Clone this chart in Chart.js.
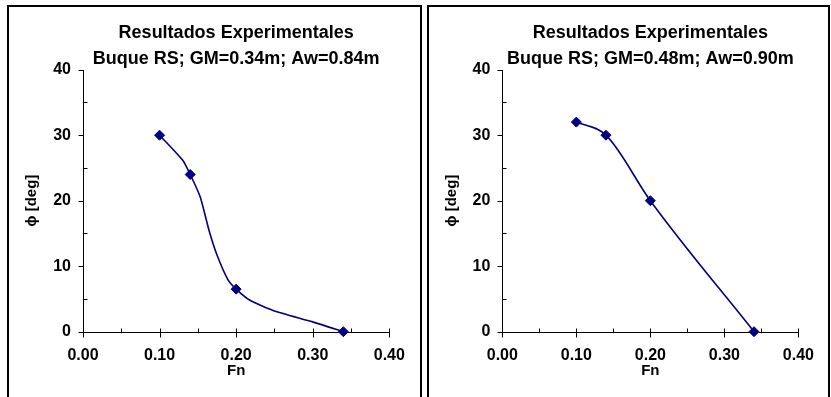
<!DOCTYPE html>
<html>
<head>
<meta charset="utf-8">
<script src="https://cdn.jsdelivr.net/npm/chart.js@4.4.0/dist/chart.umd.min.js"></script>
<style>
  body { margin: 0; background: #fff; }
  .panel { position: absolute; top: 5px; height: 400px; border: 2px solid #000; background: #fff; }
  #p1 { left: 7px; width: 411px; }
  #p2 { left: 427px; width: 399px; }
  canvas { display: block; }
</style>
</head>
<body>
<div class="panel" id="p1"><canvas id="c1" width="411" height="390"></canvas></div>
<div class="panel" id="p2"><canvas id="c2" width="399" height="390"></canvas></div>
<script>
// left chart: GM=0.34m
const fnLeft = [0.10, 0.14, 0.20, 0.34];
const phiLeft = [30, 24, 6.5, 0];
// traced curve of the left chart
const curveFnLeft = [0.10, 0.13, 0.14, 0.153, 0.165, 0.175, 0.189, 0.20, 0.218, 0.249, 0.30, 0.34];
const curvePhiLeft = [30, 26.2, 24, 20.6, 15.3, 11.7, 8.0, 6.5, 4.8, 3.2, 1.5, 0];

// right chart: GM=0.48m
const fnRight = [0.10, 0.14, 0.20, 0.34];
const phiRight = [32, 30, 20, 0];

// axis ticks
const xMajor = [0, 0.1, 0.2, 0.3, 0.4];
const xMinor = [0.05, 0.15, 0.25, 0.35];
const yMajor = [0, 10, 20, 30, 40];
const yMinor = [5, 15, 25, 35];

const navy = '#000080';
Chart.defaults.font.family = '"Liberation Sans", Arial, sans-serif';
Chart.defaults.color = '#000';

// axis lines + major/minor tick marks, Excel style
const axisMarks = {
  id: 'axisMarks',
  beforeDatasetsDraw(chart) {
    const { ctx, scales: { x, y } } = chart;
    const ax = Math.round(x.getPixelForValue(0)) + 0.5;
    const ay = Math.round(y.getPixelForValue(0)) + 0.5;
    ctx.save();
    ctx.strokeStyle = '#000';
    ctx.lineWidth = 1;
    ctx.beginPath();
    ctx.moveTo(ax, Math.round(y.getPixelForValue(40)));
    ctx.lineTo(ax, ay);
    ctx.lineTo(Math.round(x.getPixelForValue(0.4)) + 1, ay);
    yMajor.forEach(v => {
      const py = Math.round(y.getPixelForValue(v)) + 0.5;
      ctx.moveTo(ax - 5, py); ctx.lineTo(ax, py);
    });
    yMinor.forEach(v => {
      const py = Math.round(y.getPixelForValue(v)) + 0.5;
      ctx.moveTo(ax, py); ctx.lineTo(ax + 4, py);
    });
    xMajor.forEach(v => {
      const px = Math.round(x.getPixelForValue(v)) + 0.5;
      ctx.moveTo(px, ay - 4); ctx.lineTo(px, ay + 5);
    });
    xMinor.forEach(v => {
      const px = Math.round(x.getPixelForValue(v)) + 0.5;
      ctx.moveTo(px, ay - 4); ctx.lineTo(px, ay);
    });
    ctx.stroke();
    ctx.restore();
  }
};

function makeChart(id, title, sub, cx, cy, px, py, yWidth, rightPad, curveOpts) {
  const ctx = document.getElementById(id).getContext('2d');
  const titleFont = { size: 18, weight: 'bold', lineHeight: 1 };
  return new Chart(ctx, {
    type: 'scatter',
    data: {
      datasets: [{
        data: px.map((v, i) => ({ x: v, y: py[i] })),
        showLine: false,
        pointStyle: 'rectRot',
        pointRadius: 5,
        pointBackgroundColor: navy,
        pointBorderColor: navy,
        pointBorderWidth: 1,
        clip: false
      }, Object.assign({
        data: cx.map((v, i) => ({ x: v, y: cy[i] })),
        showLine: true,
        borderColor: navy,
        borderWidth: 1.6,
        pointRadius: 0,
        clip: false
      }, curveOpts)]
    },
    options: {
      responsive: false,
      animation: false,
      events: [],
      layout: { padding: { left: 0, right: rightPad, top: 0, bottom: 0 } },
      plugins: {
        legend: { display: false },
        tooltip: { enabled: false },
        title: {
          display: true, text: title, fullSize: false, color: '#000',
          font: titleFont, padding: { top: 17.5, bottom: 0 }
        },
        subtitle: {
          display: true, text: sub, fullSize: false, color: '#000',
          font: titleFont, padding: { top: 7.7, bottom: 1.5 }
        }
      },
      scales: {
        x: {
          type: 'linear', min: 0, max: 0.4,
          afterFit: s => { s.height = 65.3; },
          grid: { display: false, drawTicks: false },
          border: { display: false },
          ticks: {
            stepSize: 0.1, padding: 14, maxRotation: 0, autoSkip: false,
            font: { size: 16, weight: 'bold' },
            callback: v => Number(v).toFixed(2)
          },
          title: {
            display: true, text: 'Fn',
            font: { size: 15, weight: 'bold', lineHeight: 1.2 },
            padding: { top: 0, bottom: 16.8 }
          }
        },
        y: {
          min: 0, max: 40,
          afterFit: s => { s.width = yWidth; },
          grid: { display: false, drawTicks: false },
          border: { display: false },
          ticks: { stepSize: 10, padding: 12, font: { size: 16, weight: 'bold' } },
          title: {
            display: true, text: 'ϕ [deg]',
            font: { size: 15, weight: 'bold', lineHeight: 1.2 },
            padding: { top: 14.2, bottom: 0 }
          }
        }
      }
    },
    plugins: [axisMarks]
  });
}

makeChart('c1', 'Resultados Experimentales', 'Buque RS; GM=0.34m; Aw=0.84m',
  curveFnLeft, curvePhiLeft, fnLeft, phiLeft, 74, 30.7, { tension: 0.2 });
makeChart('c2', 'Resultados Experimentales', 'Buque RS; GM=0.48m; Aw=0.90m',
  fnRight, phiRight, fnRight, phiRight, 73.3, 19.7, { cubicInterpolationMode: 'monotone' });
</script>
</body>
</html>
